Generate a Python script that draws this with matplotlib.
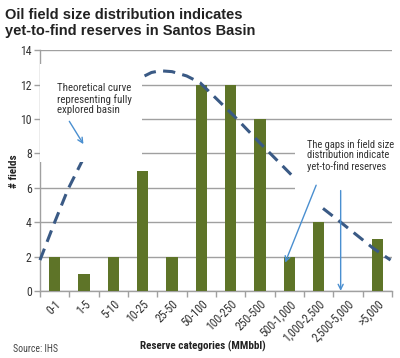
import matplotlib.pyplot as plt
import matplotlib.patches as mpatches
import matplotlib.font_manager as fm
import matplotlib.transforms as mtransforms
import numpy as np

# reserve size classes and number of fields in each
categories = ['0-1', '1-5', '5-10', '10-25', '25-50', '50-100', '100-250',
              '250-500', '500-1,000', '1,000-2,500', '2,500-5,000', '>5,000']
n_fields = [2, 1, 2, 7, 2, 12, 12, 10, 2, 4, 0, 3]

# theoretical curve (fully explored basin)
curve_x = [-0.5, 0.0, 0.45, 0.95, 1.5, 2.2, 2.95, 3.3, 3.6, 4.0, 4.5, 4.96,
           6.1, 7.0, 8.1, 9.0, 9.75, 10.85, 11.45]
curve_y = [1.8, 4.0, 5.9, 7.6, 9.6, 11.3, 12.4, 12.7, 12.8, 12.75, 12.5, 12.1,
           10.2, 8.6, 6.7, 5.0, 4.0, 2.5, 1.8]

# pick a narrow font if one is installed
installed = {f.name for f in fm.fontManager.ttflist}
narrow = 'Liberation Sans'
for cand in ['Roboto Condensed', 'Liberation Sans Narrow', 'Open Sans Condensed',
             'Noto Sans Condensed', 'Arial Narrow']:
    if cand in installed:
        narrow = cand
        break
font = [narrow, 'DejaVu Sans']

bar_color = '#5e7428'
grid_color = '#a0a0a0'
curve_color = '#3a5a85'
arrow_color = '#4a8fd0'
text_color = '#333333'

fig = plt.figure(figsize=(4.0, 3.58), dpi=100)
ax = fig.add_axes([0.1, 0.187, 0.88, 0.673])

x = np.arange(len(categories))
ax.bar(x, n_fields, width=0.38, color=bar_color, zorder=3)

# gridlines and axes
ax.set_ylim(0, 14)
ax.set_xlim(-0.5, len(categories) - 0.5)
ax.set_yticks(np.arange(0, 15, 2))
ax.yaxis.grid(True, color=grid_color, linewidth=1.0, zorder=0)
ax.set_axisbelow(True)
for side in ['top', 'right']:
    ax.spines[side].set_visible(False)
for side in ['left', 'bottom']:
    ax.spines[side].set_color(grid_color)
    ax.spines[side].set_linewidth(1.0)

ax.set_xticks(x)
ax.set_xticklabels(categories, rotation=45, ha='right', va='top',
                   rotation_mode='anchor', family=font, fontsize=8.5, color=text_color)
shift = mtransforms.ScaledTranslation(4 / 100, 0, fig.dpi_scale_trans)
for lbl in ax.get_xticklabels():
    lbl.set_transform(lbl.get_transform() + shift)
ax.tick_params(axis='x', length=0, pad=5)
ax.set_xticks(np.arange(-0.5, len(categories), 1), minor=True)
ax.tick_params(axis='x', which='minor', length=4, color=grid_color, width=1)
ax.tick_params(axis='y', length=4, color=grid_color, width=1, pad=2,
               labelsize=8.5, labelcolor=text_color)
for lbl in ax.get_yticklabels():
    lbl.set_family(font)

fig.text(0.508, 0.033, 'Reserve categories (MMbbl)', family=font, fontsize=8,
         fontweight='bold', ha='center', va='center', color='#222222')
fig.text(0.036, 0.522, '# fields', family=font, fontsize=8, fontweight='bold',
         rotation=90, ha='center', va='center', color='#222222')

# dashed theoretical curve
ax.plot(curve_x, curve_y, color=curve_color, linewidth=2.2,
        dashes=(4.0, 2.4), zorder=4, clip_on=False)

# white boxes behind the notes
ax.add_patch(mpatches.Rectangle((-0.5, 7.5), 3.48, 5.7, facecolor='white',
                                edgecolor='none', zorder=5))
ax.add_patch(mpatches.Rectangle((8.2, 5.0), 3.35, 4.3, facecolor='white',
                                edgecolor='none', zorder=5, clip_on=False))

ax.text(0.08, 12.1, 'Theoretical curve\nrepresenting fully\nexplored basin',
        family=font, fontsize=7.8, color=text_color, va='top', ha='left',
        linespacing=1.1, zorder=6)
ax.text(8.6, 8.85, 'The gaps in field size\ndistribution indicate\nyet-to-find reserves',
        family=font, fontsize=7.6, color=text_color, va='top', ha='left',
        linespacing=1.1, zorder=6)

arrow = dict(arrowstyle='->', color=arrow_color, lw=1.0, mutation_scale=9)
ax.annotate('', xy=(1.03, 8.4), xytext=(0.45, 10.0), arrowprops=arrow, zorder=7)
ax.annotate('', xy=(7.82, 1.5), xytext=(8.95, 6.3), arrowprops=arrow, zorder=7)
ax.annotate('', xy=(9.75, -0.15), xytext=(9.75, 6.0), arrowprops=arrow,
            zorder=7, annotation_clip=False)

fig.text(0.012, 0.978, 'Oil field size distribution indicates\nyet-to-find reserves in Santos Basin',
         family=['Liberation Sans', 'DejaVu Sans'], fontsize=10.5, fontweight='bold',
         va='top', ha='left', linespacing=1.2, color='#222222')
fig.text(0.033, 0.012, 'Source: IHS', family=font, fontsize=7, color='#444444',
         va='bottom', ha='left')

fig.savefig('out.png', dpi=100)
